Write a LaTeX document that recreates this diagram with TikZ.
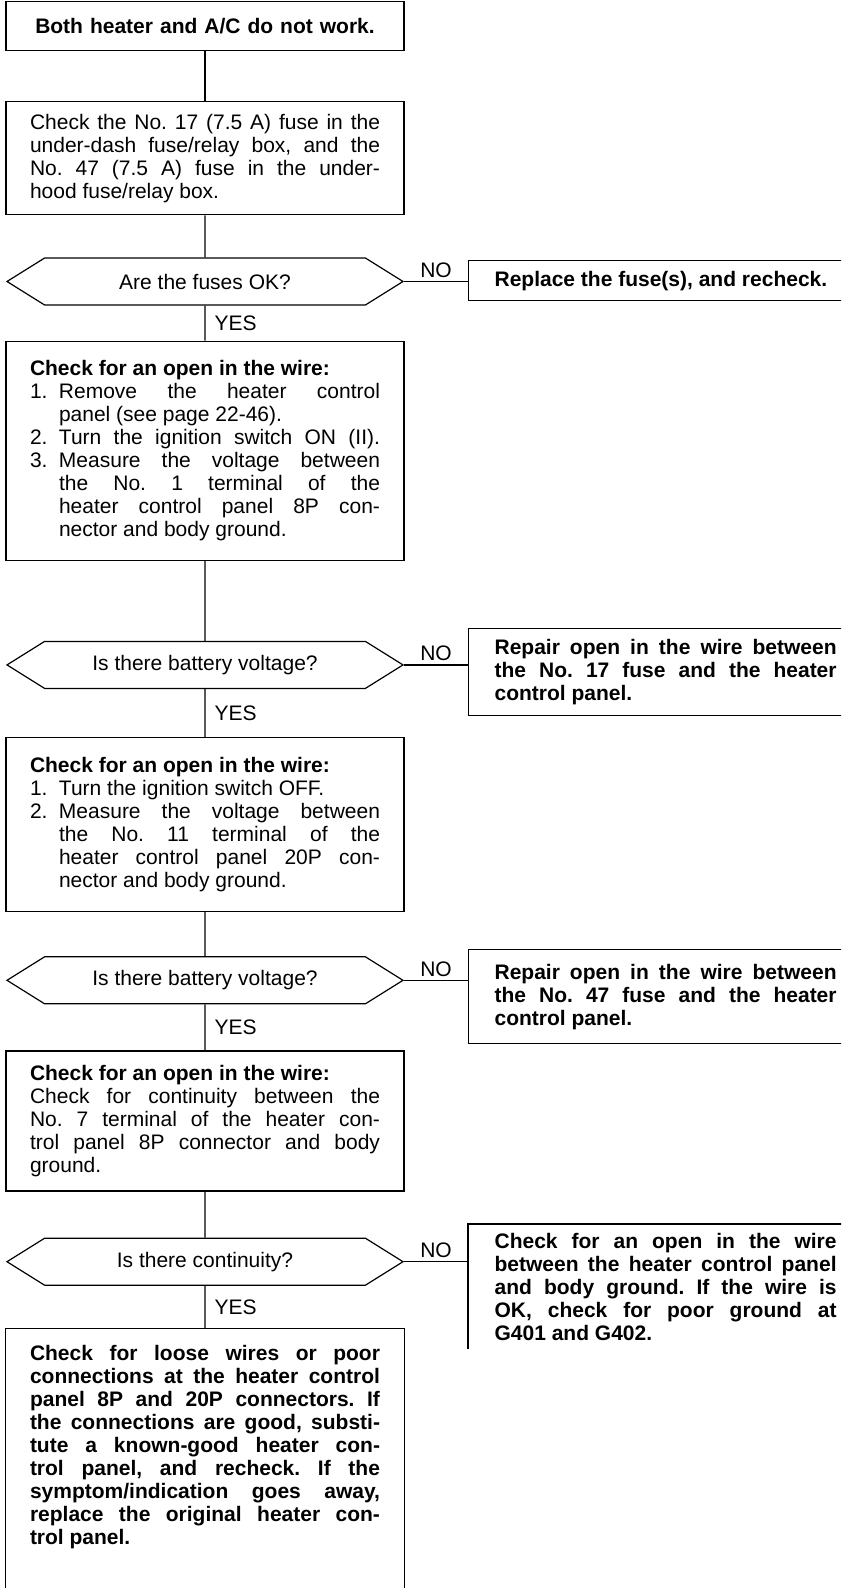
\documentclass[tikz,border=0pt]{standalone}
\usepackage{fontspec}
\setmainfont{Liberation Sans}
\usetikzlibrary{positioning,shapes.symbols}
\setlength{\parindent}{0pt}
\frenchspacing
\tolerance=9999
\hbadness=10000

% numbered step with hanging indent
\newcommand{\numstep}[2]{\par\leavevmode\hangindent=29pt\hangafter=1\makebox[29pt][l]{#1}#2\par}

\begin{document}
\begin{tikzpicture}[x=1pt, y=1pt, auto, font=\fontsize{21}{23}\selectfont,
    box/.style={rectangle, draw, line width=1.2pt, text width=350pt, inner xsep=24pt, inner ysep=6pt, align=justify},
    bold/.style={font=\fontsize{21}{23}\selectfont\bfseries},
    test/.style={signal, signal to=west and east, signal pointer angle=64, draw, line width=1.2pt, minimum width=396pt, minimum height=47pt, inner sep=0pt, align=center},
    fix/.style={rectangle, draw, line width=1.2pt, anchor=north west, text width=342pt, inner xsep=26pt, inner ysep=6pt, align=justify, bold},
    link/.style={line width=1.2pt},
    tag/.style={inner xsep=9pt}]
    \useasboundingbox (0,0) rectangle (841,-1588);
    \clip (0,0) rectangle (841,-1588);
    \coordinate (pagebot) at (0,-1588);

    % main column
    \node[box, bold, align=center, text width=390pt, inner xsep=4pt, minimum height=49pt, anchor=north] (start) at (205,-1) {Both heater and A/C do not work.};
    \node[box, minimum height=113pt, below=50pt of start] (fuse) {Check the No. 17 (7.5 A) fuse in the\linebreak under-dash fuse/relay box, and the\linebreak No. 47 (7.5 A) fuse in the under-\linebreak hood fuse/relay box.};
    \node[test, below=42pt of fuse] (fuseok) {Are the fuses OK?};
    \node[box, minimum height=219pt, below=35pt of fuseok] (panelv) {\textbf{Check for an open in the wire:}\numstep{1.}{Remove the heater control\linebreak panel (see page 22-46).}{\parfillskip=0pt\numstep{2.}{Turn the ignition switch ON (II).}}\numstep{3.}{Measure the voltage between\linebreak the No. 1 terminal of the\linebreak heater control panel 8P con-\linebreak nector and body ground.}};
    \node[test, below=80pt of panelv] (battv1) {Is there battery voltage?};
    \node[box, minimum height=174pt, below=48pt of battv1] (ignoff) {\textbf{Check for an open in the wire:}\numstep{1.}{Turn the ignition switch OFF.}\numstep{2.}{Measure the voltage between\linebreak the No. 11 terminal of the\linebreak heater control panel 20P con-\linebreak nector and body ground.}};
    \node[test, below=44pt of ignoff] (battv2) {Is there battery voltage?};
    \node[box, minimum height=140pt, below=46pt of battv2] (gndchk) {\textbf{Check for an open in the wire:}\par Check for continuity between the\linebreak No. 7 terminal of the heater con-\linebreak trol panel 8P connector and body\linebreak ground.};
    \node[test, below=46pt of gndchk] (cont) {Is there continuity?};
    \node[box, bold, draw=none, inner ysep=16pt, below=43pt of cont] (final) {Check for loose wires or poor\linebreak connections at the heater control\linebreak panel 8P and 20P connectors. If\linebreak the connections are good, substi-\linebreak tute a known-good heater con-\linebreak trol panel, and recheck. If the\linebreak symptom/indication goes away,\linebreak replace the original heater con-\linebreak trol panel.};

    % repair column
    \node[fix, minimum height=40pt] (fix1) at (468,-260) {Replace the fuse(s), and recheck.};
    \node[fix, minimum height=87pt] (fix2) at (468,-628) {Repair open in the wire between\linebreak the No. 17 fuse and the heater\linebreak control panel.};
    \node[fix, minimum height=94pt] (fix3) at (468,-949) {Repair open in the wire between\linebreak the No. 47 fuse and the heater\linebreak control panel.};
    \node[fix, draw=none, minimum height=124pt] (fix4) at (468,-1224) {Check for an open in the wire\linebreak between the heater control panel\linebreak and body ground. If the wire is\linebreak OK, check for poor ground at\linebreak G401 and G402.};

    \draw[link] (start) -- (fuse);
    \draw[link] (fuse) -- (fuseok);
    \draw[link] (fuseok) -- node[tag]{YES} (panelv);
    \draw[link] (panelv) -- (battv1);
    \draw[link] (battv1) -- node[tag]{YES} (ignoff);
    \draw[link] (ignoff) -- (battv2);
    \draw[link] (battv2) -- node[tag]{YES} (gndchk);
    \draw[link] (gndchk) -- (cont);
    \draw[link] (cont) -- node[tag]{YES} (final);

    \draw[link] (fuseok.east) -- node{NO} (fuseok.east -| fix1.west);
    \draw[link] (battv1.east) -- node{NO} (battv1.east -| fix2.west);
    \draw[link] (battv2.east) -- node{NO} (battv2.east -| fix3.west);
    \draw[link] (cont.east) -- node{NO} (cont.east -| fix4.west);

    \draw[link] (final.west |- pagebot) -- (final.north west) -- (final.north east) -- (final.east |- pagebot);
    \draw[link] (fix4.south west) -- (fix4.north west) -- (fix4.north east);
\end{tikzpicture}
\end{document}
